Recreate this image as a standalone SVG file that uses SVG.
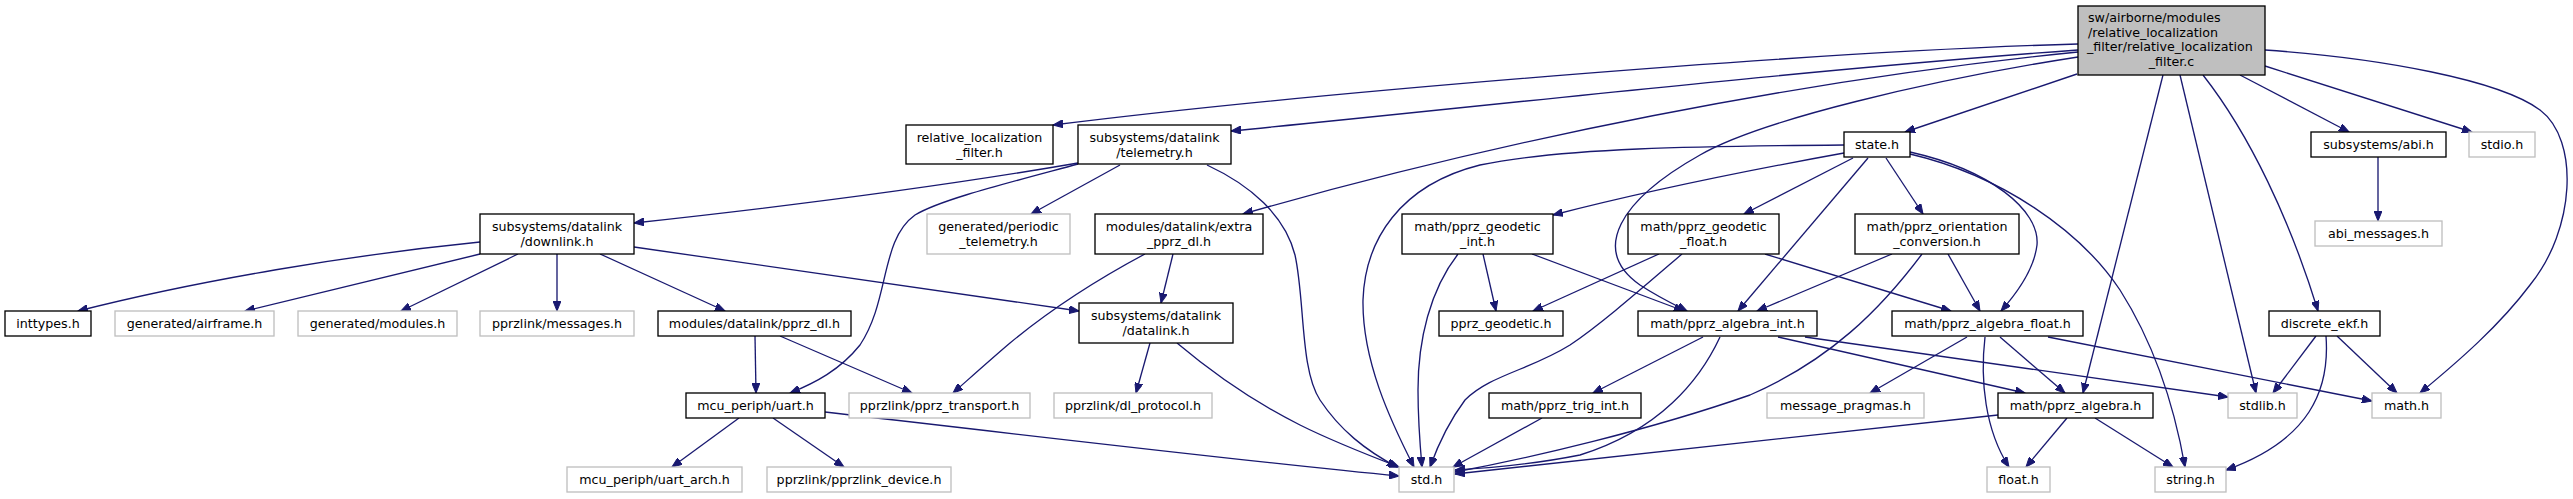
<svg xmlns="http://www.w3.org/2000/svg" width="2573" height="499" viewBox="0 0 2573 499">
<style>
.n rect{fill:#fff;stroke:#000;stroke-width:1.33}
.g rect{fill:#fff;stroke:#bfbfbf;stroke-width:1.33}
.m rect{fill:#bfbfbf;stroke:#000;stroke-width:1.33}
text{font-family:"DejaVu Sans","Liberation Sans",sans-serif;font-size:12.67px;fill:#000;text-anchor:middle}
text.l{text-anchor:start}
#edges path{fill:none;stroke:#191970;stroke-width:1.33;marker-end:url(#a)}
</style>
<defs>
<marker id="a" markerWidth="11" markerHeight="8" refX="10" refY="4" orient="auto" markerUnits="userSpaceOnUse"><path d="M0,0 L10,4 L0,8 z" fill="#191970" stroke="#191970" stroke-width="1"/></marker>
</defs>
<rect width="2573" height="499" fill="#fff"/>
<g id="edges">
<path d="M2078,44 C1800,52 1300,94 1053,125"/>
<path d="M2078,50 C1800,70 1450,110 1231,131"/>
<path d="M2078,52 C1800,80 1500,140 1243,214"/>
<path d="M2077,74 L1905,132"/>
<path d="M2078,57 C1930,80 1760,120 1700,155 C1620,200 1590,250 1640,285 C1660,298 1675,305 1687,311"/>
<path d="M2163,75 L2083,393"/>
<path d="M2180,75 L2256,393"/>
<path d="M2203,75 C2250,135 2290,220 2318,311"/>
<path d="M2240,75 L2349,132"/>
<path d="M2265,66 L2472,132"/>
<path d="M2265,50 C2380,58 2500,80 2540,110 C2580,140 2575,230 2530,285 C2500,325 2460,360 2420,393"/>
<path d="M1078,163 C950,185 800,205 634,223"/>
<path d="M1078,164 C1000,185 940,200 915,215 C880,240 890,300 860,345 C840,370 815,383 790,393"/>
<path d="M1120,165 L1031,214"/>
<path d="M1207,165 C1250,185 1285,215 1295,255 C1305,300 1300,370 1320,400 C1340,430 1365,450 1397,467"/>
<path d="M480,242 C350,255 200,280 78,311"/>
<path d="M480,254 L245,311"/>
<path d="M518,254 L401,311"/>
<path d="M557,254 L557,311"/>
<path d="M600,254 L725,311"/>
<path d="M634,247 L1079,311"/>
<path d="M755,336 L756,393"/>
<path d="M780,336 L912,393"/>
<path d="M1145,254 C1100,278 1050,310 1010,343 C990,360 970,378 953,393"/>
<path d="M1173,254 L1161,303"/>
<path d="M1150,343 L1136,393"/>
<path d="M1177,343 C1215,375 1260,405 1300,425 C1330,440 1360,452 1399,467"/>
<path d="M739,418 L672,467"/>
<path d="M773,418 L844,467"/>
<path d="M825,412 C1000,432 1250,462 1399,476"/>
<path d="M1844,153 C1750,170 1650,190 1553,215"/>
<path d="M1853,158 L1744,214"/>
<path d="M1868,158 L1738,311"/>
<path d="M1886,158 L1923,214"/>
<path d="M1910,152 C1990,170 2040,210 2037,245 C2034,270 2018,292 2001,311"/>
<path d="M1910,154 C2000,175 2080,230 2120,290 C2155,345 2175,410 2185,467"/>
<path d="M1844,145 C1700,146 1560,148 1480,165 C1400,185 1365,240 1363,300 C1362,360 1390,420 1414,467"/>
<path d="M1483,254 L1496,311"/>
<path d="M1532,254 L1684,311"/>
<path d="M1458,254 C1430,290 1418,340 1418,390 C1418,420 1420,445 1422,467"/>
<path d="M1659,254 L1533,311"/>
<path d="M1682,254 C1640,290 1600,325 1570,345 C1530,370 1490,375 1465,400 C1450,420 1438,445 1430,467"/>
<path d="M1765,254 L1951,311"/>
<path d="M1892,254 L1757,311"/>
<path d="M1948,254 L1980,311"/>
<path d="M1922,254 C1880,310 1830,360 1750,395 C1650,430 1530,458 1455,472"/>
<path d="M1703,337 L1593,393"/>
<path d="M1720,337 C1700,380 1660,430 1580,455 C1530,465 1490,468 1455,470"/>
<path d="M1778,337 L2025,393"/>
<path d="M1805,337 L2228,397"/>
<path d="M1967,337 L1870,393"/>
<path d="M1985,337 C1980,380 1985,430 2009,467"/>
<path d="M2000,337 L2065,393"/>
<path d="M2048,337 L2372,401"/>
<path d="M1998,415 L1455,474"/>
<path d="M2067,418 L2026,467"/>
<path d="M2095,418 L2173,467"/>
<path d="M1542,418 L1453,467"/>
<path d="M2316,336 L2273,393"/>
<path d="M2337,336 L2397,393"/>
<path d="M2326,336 C2330,390 2310,440 2226,470"/>
<path d="M2378,157 L2378,221"/>
</g>
<g id="main" class="m"><rect x="2078" y="6" width="187" height="69"/><text class="l" x="2088" y="22">sw/airborne/modules</text><text class="l" x="2088" y="36.7">/relative_localization</text><text class="l" x="2087" y="51.4">_filter/relative_localization</text><text x="2171.5" y="66">_filter.c</text></g>
<g id="rlf" class="n"><rect x="906" y="125" width="147" height="39"/><text x="979.5" y="142">relative_localization</text><text x="979.5" y="156.5">_filter.h</text></g>
<g id="telemetry" class="n"><rect x="1078" y="125" width="153" height="39"/><text x="1154.5" y="142">subsystems/datalink</text><text x="1154.5" y="156.5">/telemetry.h</text></g>
<g id="state" class="n"><rect x="1844" y="132" width="66" height="25"/><text x="1877" y="148.7">state.h</text></g>
<g id="abi" class="n"><rect x="2311" y="132" width="135" height="25"/><text x="2378.5" y="148.7">subsystems/abi.h</text></g>
<g id="stdio" class="g"><rect x="2469" y="132" width="66" height="25"/><text x="2502" y="148.7">stdio.h</text></g>
<g id="downlink" class="n"><rect x="480" y="214" width="154" height="40"/><text x="557" y="231">subsystems/datalink</text><text x="557" y="245.5">/downlink.h</text></g>
<g id="ptel" class="g"><rect x="927" y="214" width="143" height="40"/><text x="998.5" y="231">generated/periodic</text><text x="998.5" y="245.5">_telemetry.h</text></g>
<g id="extra" class="n"><rect x="1095" y="214" width="168" height="40"/><text x="1179" y="231">modules/datalink/extra</text><text x="1179" y="245.5">_pprz_dl.h</text></g>
<g id="gint" class="n"><rect x="1402" y="214" width="151" height="40"/><text x="1477.5" y="231">math/pprz_geodetic</text><text x="1477.5" y="245.5">_int.h</text></g>
<g id="gflt" class="n"><rect x="1628" y="214" width="151" height="40"/><text x="1703.5" y="231">math/pprz_geodetic</text><text x="1703.5" y="245.5">_float.h</text></g>
<g id="ori" class="n"><rect x="1855" y="214" width="164" height="40"/><text x="1937" y="231">math/pprz_orientation</text><text x="1937" y="245.5">_conversion.h</text></g>
<g id="abim" class="g"><rect x="2315" y="221" width="127" height="25"/><text x="2378.5" y="237.7">abi_messages.h</text></g>
<g id="datalink" class="n"><rect x="1079" y="303" width="154" height="40"/><text x="1156" y="320">subsystems/datalink</text><text x="1156" y="334.5">/datalink.h</text></g>
<g id="inttypes" class="n"><rect x="5" y="311" width="86" height="25"/><text x="48" y="327.7">inttypes.h</text></g>
<g id="airframe" class="g"><rect x="115" y="311" width="159" height="25"/><text x="194.5" y="327.7">generated/airframe.h</text></g>
<g id="modules" class="g"><rect x="298" y="311" width="159" height="25"/><text x="377.5" y="327.7">generated/modules.h</text></g>
<g id="messages" class="g"><rect x="480" y="311" width="154" height="25"/><text x="557" y="327.7">pprzlink/messages.h</text></g>
<g id="pprzdl" class="n"><rect x="658" y="311" width="193" height="25"/><text x="754.5" y="327.7">modules/datalink/pprz_dl.h</text></g>
<g id="pgeo" class="n"><rect x="1439" y="311" width="124" height="25"/><text x="1501" y="327.7">pprz_geodetic.h</text></g>
<g id="aint" class="n"><rect x="1638" y="311" width="179" height="25"/><text x="1727.5" y="327.7">math/pprz_algebra_int.h</text></g>
<g id="aflt" class="n"><rect x="1892" y="311" width="191" height="25"/><text x="1987.5" y="327.7">math/pprz_algebra_float.h</text></g>
<g id="ekf" class="n"><rect x="2269" y="311" width="111" height="25"/><text x="2324.5" y="327.7">discrete_ekf.h</text></g>
<g id="uart" class="n"><rect x="686" y="393" width="139" height="25"/><text x="755.5" y="409.7">mcu_periph/uart.h</text></g>
<g id="transport" class="g"><rect x="849" y="393" width="181" height="25"/><text x="939.5" y="409.7">pprzlink/pprz_transport.h</text></g>
<g id="dlproto" class="g"><rect x="1054" y="393" width="158" height="25"/><text x="1133" y="409.7">pprzlink/dl_protocol.h</text></g>
<g id="trig" class="n"><rect x="1489" y="393" width="152" height="25"/><text x="1565" y="409.7">math/pprz_trig_int.h</text></g>
<g id="pragmas" class="g"><rect x="1767" y="393" width="157" height="25"/><text x="1845.5" y="409.7">message_pragmas.h</text></g>
<g id="alg" class="n"><rect x="1998" y="393" width="155" height="25"/><text x="2075.5" y="409.7">math/pprz_algebra.h</text></g>
<g id="stdlib" class="g"><rect x="2228" y="393" width="69" height="25"/><text x="2262.5" y="409.7">stdlib.h</text></g>
<g id="math" class="g"><rect x="2372" y="393" width="69" height="25"/><text x="2406.5" y="409.7">math.h</text></g>
<g id="uartarch" class="g"><rect x="567" y="467" width="175" height="25"/><text x="654.5" y="483.7">mcu_periph/uart_arch.h</text></g>
<g id="device" class="g"><rect x="767" y="467" width="184" height="25"/><text x="859" y="483.7">pprzlink/pprzlink_device.h</text></g>
<g id="std" class="g"><rect x="1399" y="467" width="55" height="25"/><text x="1426.5" y="483.7">std.h</text></g>
<g id="float" class="g"><rect x="1987" y="467" width="63" height="25"/><text x="2018.5" y="483.7">float.h</text></g>
<g id="string" class="g"><rect x="2155" y="467" width="71" height="25"/><text x="2190.5" y="483.7">string.h</text></g>
</svg>
